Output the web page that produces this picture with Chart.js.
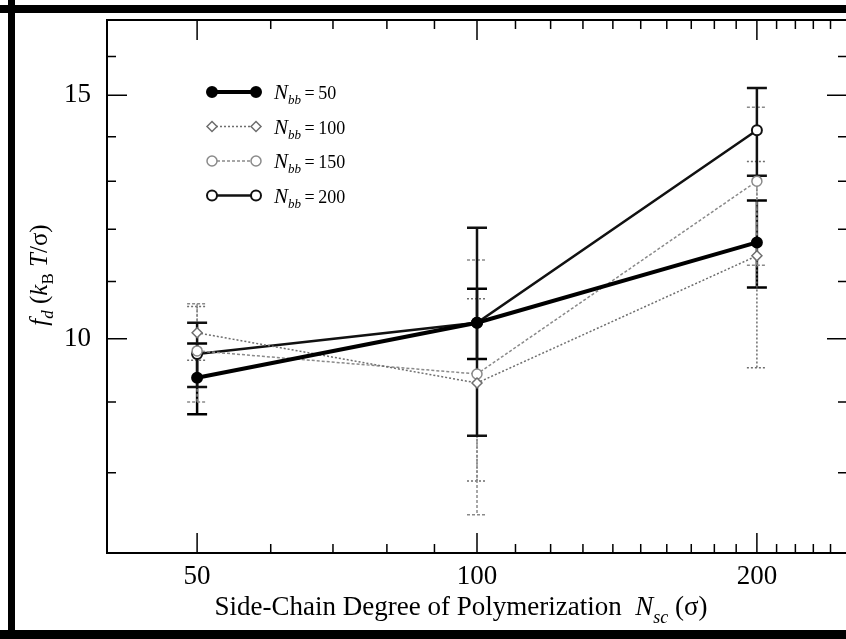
<!DOCTYPE html>
<html>
<head>
<meta charset="utf-8">
<script src="https://cdn.jsdelivr.net/npm/chart.js@4.4.1/dist/chart.umd.min.js"></script>
<style>
  html, body { margin: 0; padding: 0; background: #fff; overflow: hidden; }
  #wrap { width: 846px; height: 639px; overflow: hidden; }
</style>
</head>
<body>
<div id="wrap"><canvas id="fdChart" width="870" height="639"></canvas></div>
<script>
// side-chain length (x) and measured force per backbone length
const nsc = [50, 100, 200];
const fd50 = [9.37, 10.27, 11.74];
const err50 = [0.55, 0.6, 0.85];
const fd100 = [10.1, 9.29, 11.48];
const err100 = [0.45, 1.4, 1.95];
const fd150 = [9.8, 9.43, 13.0];
const err150 = [0.8, 1.97, 1.7];
const fd200 = [9.75, 10.27, 14.15];
const err200 = [0.52, 1.76, 1.03];

const seriesLabels = ['50', '100', '150', '200'];
const xTickVals = [50, 100, 200];
const yTickVals = [10, 15];
const xMinorVals = [60, 70, 80, 90, 110, 120, 130, 140, 150, 160, 170, 180, 190, 210, 220, 230, 240];
const yMinorVals = [8, 9, 11, 12, 13, 14, 16];

const SERIF = '"Liberation Serif", "DejaVu Serif", serif';

function pts(ys) {
    return nsc.map((x, i) => ({ x: x, y: ys[i] }));
}

function drawRich(ctx, parts, x, y, align) {
    let total = 0;
    parts.forEach(p => { ctx.font = p.font; total += ctx.measureText(p.t).width; });
    let cx = align === 'center' ? x - total / 2 : x;
    parts.forEach(p => {
        ctx.font = p.font;
        ctx.fillText(p.t, cx, y + (p.dy || 0));
        cx += ctx.measureText(p.t).width;
    });
}

function noPad(s) {
    s.paddingTop = 0;
    s.paddingBottom = 0;
    s.paddingLeft = 0;
    s.paddingRight = 0;
}

// error bars, inward ticks, frame, titles and legend
const decorPlugin = {
    id: 'decor',
    beforeDraw(chart) {
        const ctx = chart.ctx;
        ctx.save();
        ctx.fillStyle = '#000';
        ctx.fillRect(8, 0, 7, 639);
        ctx.fillRect(0, 5, 870, 8);
        ctx.fillRect(0, 630, 870, 9);
        ctx.restore();
    },
    beforeDatasetsDraw(chart) {
        const ctx = chart.ctx;
        const xs = chart.scales.x, ys = chart.scales.y;
        const errs = [err50, err100, err150, err200];
        ctx.save();
        chart.data.datasets.forEach((ds, di) => {
            ctx.strokeStyle = ds.borderColor;
            ctx.lineWidth = di === 0 || di === 3 ? 2.5 : 1.5;
            ctx.setLineDash(ds.borderDash || []);
            ds.data.forEach((p, i) => {
                const px = xs.getPixelForValue(p.x);
                const top = ys.getPixelForValue(p.y + errs[di][i]);
                const bot = ys.getPixelForValue(p.y - errs[di][i]);
                ctx.beginPath();
                ctx.moveTo(px, top); ctx.lineTo(px, bot);
                ctx.moveTo(px - 10, top); ctx.lineTo(px + 10, top);
                ctx.moveTo(px - 10, bot); ctx.lineTo(px + 10, bot);
                ctx.stroke();
            });
        });
        ctx.restore();
    },
    afterDraw(chart) {
        const ctx = chart.ctx;
        const a = chart.chartArea;
        const xs = chart.scales.x, ys = chart.scales.y;
        ctx.save();
        ctx.strokeStyle = '#000';
        ctx.lineWidth = 2;
        ctx.strokeRect(a.left, a.top, a.right - a.left, a.bottom - a.top);

        ctx.lineWidth = 1.5;
        ctx.beginPath();
        xTickVals.forEach(v => {
            const px = xs.getPixelForValue(v);
            ctx.moveTo(px, a.bottom); ctx.lineTo(px, a.bottom - 20);
            ctx.moveTo(px, a.top); ctx.lineTo(px, a.top + 20);
        });
        xMinorVals.forEach(v => {
            const px = xs.getPixelForValue(v);
            ctx.moveTo(px, a.bottom); ctx.lineTo(px, a.bottom - 9);
            ctx.moveTo(px, a.top); ctx.lineTo(px, a.top + 9);
        });
        yTickVals.forEach(v => {
            const py = ys.getPixelForValue(v);
            ctx.moveTo(a.left, py); ctx.lineTo(a.left + 20, py);
            ctx.moveTo(a.right, py); ctx.lineTo(a.right - 20, py);
        });
        yMinorVals.forEach(v => {
            const py = ys.getPixelForValue(v);
            ctx.moveTo(a.left, py); ctx.lineTo(a.left + 9, py);
            ctx.moveTo(a.right, py); ctx.lineTo(a.right - 9, py);
        });
        ctx.stroke();

        // axis titles
        ctx.fillStyle = '#000';
        ctx.textBaseline = 'alphabetic';
        drawRich(ctx, [
            { t: 'Side-Chain Degree of Polymerization  ', font: '27px ' + SERIF },
            { t: 'N', font: 'italic 27px ' + SERIF },
            { t: 'sc', font: 'italic 18px ' + SERIF, dy: 8 },
            { t: ' (σ)', font: '27px ' + SERIF }
        ], 461, 615, 'center');

        ctx.save();
        ctx.translate(47, 275);
        ctx.rotate(-Math.PI / 2);
        drawRich(ctx, [
            { t: 'f', font: 'italic 25px ' + SERIF },
            { t: 'd', font: 'italic 17px ' + SERIF, dy: 6 },
            { t: ' (', font: '25px ' + SERIF },
            { t: 'k', font: 'italic 25px ' + SERIF },
            { t: 'B', font: '17px ' + SERIF, dy: 6 },
            { t: ' T', font: 'italic 25px ' + SERIF },
            { t: '/σ)', font: '25px ' + SERIF }
        ], 0, 0, 'center');
        ctx.restore();

        // legend
        chart.data.datasets.forEach((ds, i) => {
            const y = 92 + i * 34.5;
            ctx.save();
            ctx.strokeStyle = ds.borderColor;
            ctx.lineWidth = ds.borderWidth;
            ctx.setLineDash(ds.borderDash || []);
            ctx.beginPath();
            ctx.moveTo(212, y); ctx.lineTo(256, y);
            ctx.stroke();
            ctx.setLineDash([]);
            [212, 256].forEach(mx => {
                ctx.fillStyle = ds.pointBackgroundColor;
                ctx.strokeStyle = ds.pointBorderColor;
                ctx.lineWidth = ds.pointBorderWidth;
                ctx.beginPath();
                if (ds.pointStyle === 'rectRot') {
                    const r = ds.pointRadius;
                    ctx.moveTo(mx, y - r); ctx.lineTo(mx + r, y); ctx.lineTo(mx, y + r); ctx.lineTo(mx - r, y); ctx.closePath();
                } else {
                    ctx.arc(mx, y, ds.pointRadius, 0, Math.PI * 2);
                }
                ctx.fill(); ctx.stroke();
            });
            ctx.restore();
            ctx.fillStyle = '#000';
            drawRich(ctx, [
                { t: 'N', font: 'italic 21px ' + SERIF },
                { t: 'bb', font: 'italic 13px ' + SERIF, dy: 5 },
                { t: '\u2009=\u2009' + seriesLabels[i], font: '18px ' + SERIF }
            ], 274, y + 7, 'left');
        });
        ctx.restore();
    }
};

document.addEventListener('DOMContentLoaded', function() {
    const ctx = document.getElementById('fdChart').getContext('2d');

    new Chart(ctx, {
        type: 'line',
        data: {
            datasets: [
                {
                    label: 'Nbb = 50',
                    data: pts(fd50),
                    borderColor: '#000',
                    borderWidth: 4,
                    pointStyle: 'circle',
                    pointRadius: 5,
                    pointBackgroundColor: '#000',
                    pointBorderColor: '#000',
                    pointBorderWidth: 2
                },
                {
                    label: 'Nbb = 100',
                    data: pts(fd100),
                    borderColor: '#6e6e6e',
                    borderWidth: 1.5,
                    borderDash: [2, 2],
                    pointStyle: 'rectRot',
                    pointRadius: 5,
                    pointBackgroundColor: '#fff',
                    pointBorderColor: '#6e6e6e',
                    pointBorderWidth: 1.5
                },
                {
                    label: 'Nbb = 150',
                    data: pts(fd150),
                    borderColor: '#8a8a8a',
                    borderWidth: 1.5,
                    borderDash: [3, 2],
                    pointStyle: 'circle',
                    pointRadius: 5,
                    pointBackgroundColor: '#fff',
                    pointBorderColor: '#8a8a8a',
                    pointBorderWidth: 1.5
                },
                {
                    label: 'Nbb = 200',
                    data: pts(fd200),
                    borderColor: '#111',
                    borderWidth: 2.5,
                    pointStyle: 'circle',
                    pointRadius: 5,
                    pointBackgroundColor: '#fff',
                    pointBorderColor: '#111',
                    pointBorderWidth: 2
                }
            ]
        },
        options: {
            responsive: false,
            animation: false,
            devicePixelRatio: 1,
            layout: { padding: { top: 20, right: 23, left: 0, bottom: 0 } },
            plugins: {
                legend: { display: false },
                tooltip: { enabled: false }
            },
            scales: {
                x: {
                    type: 'logarithmic',
                    min: 40,
                    max: 250,
                    grid: { display: false, drawTicks: false },
                    border: { display: false },
                    afterBuildTicks: s => { s.ticks = xTickVals.map(v => ({ value: v })); },
                    afterFit: s => { s.height = 86; noPad(s); },
                    ticks: {
                        padding: 8,
                        color: '#000',
                        maxRotation: 0,
                        autoSkip: false,
                        font: { family: SERIF, size: 27 },
                        callback: v => String(v)
                    }
                },
                y: {
                    type: 'logarithmic',
                    min: 7,
                    max: 17,
                    grid: { display: false, drawTicks: false },
                    border: { display: false },
                    afterBuildTicks: s => { s.ticks = yTickVals.map(v => ({ value: v })); },
                    afterFit: s => { s.width = 107; noPad(s); },
                    ticks: {
                        padding: 16,
                        color: '#000',
                        autoSkip: false,
                        font: { family: SERIF, size: 27 },
                        callback: v => String(v)
                    }
                }
            }
        },
        plugins: [decorPlugin]
    });
});
</script>
</body>
</html>
